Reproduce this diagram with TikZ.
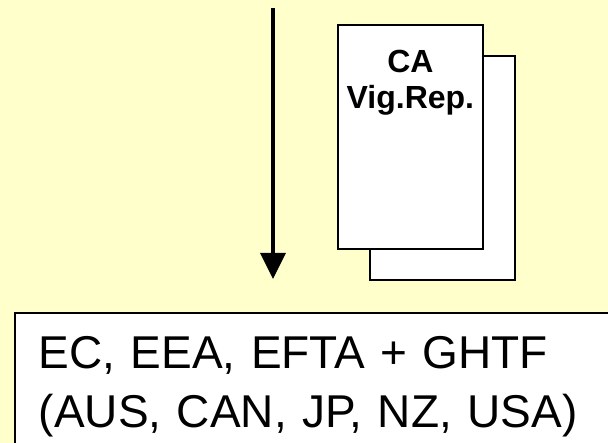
\documentclass[tikz,border=0pt]{standalone}
\usepackage{fontspec}
\setmainfont{Liberation Sans}
\usetikzlibrary{arrows.meta,positioning}
\definecolor{bgyellow}{HTML}{FFFFCC}

\begin{document}
\begin{tikzpicture}[
    x=1pt, y=-1pt,
    page/.style={draw, fill=white, line width=1.8pt, minimum width=145pt, minimum height=224pt, anchor=north west, inner sep=0pt},
    pagetxt/.style={font=\fontsize{32}{36}\selectfont\bfseries, align=center, inner sep=0pt},
    regbox/.style={draw, fill=white, line width=1.8pt, anchor=north west, text width=640pt, align=left, inner xsep=24pt, inner ysep=23pt, font=\fontsize{46}{59}\selectfont},
    arr/.style={-{Triangle[length=26pt, width=25pt]}, line width=3.5pt}
]
\fill[bgyellow] (0,0) rectangle (608,443);
\useasboundingbox (0,0) rectangle (608,443);

\node[page] (back) at (369,55) {};
\node[page] (front) at (337,24) {};
\node[pagetxt, below=26pt of front.north] (catxt) {CA\\Vig.Rep.};

\node[regbox] (regions) at (14,312) {EC, EEA, EFTA + GHTF\\(AUS, CAN, JP, NZ, USA)};

\coordinate (start) at (273,8);
\coordinate (tip) at (273,279);
\draw[arr] (start) -- (tip);
\end{tikzpicture}
\end{document}
